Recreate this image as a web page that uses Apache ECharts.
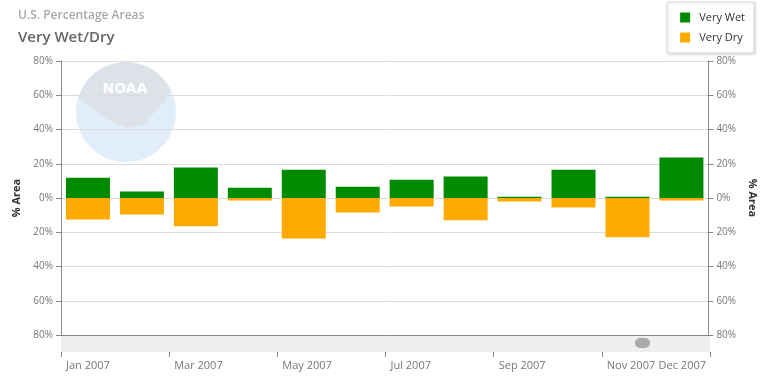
<!DOCTYPE html>
<html>
<head>
<meta charset="utf-8">
<script src="https://cdn.jsdelivr.net/npm/echarts@6/dist/echarts.min.js"></script>
<style>
html,body{margin:0;padding:0;background:#fff;}
#chart{width:766px;height:379px;}
</style>
</head>
<body>
<div id="chart"></div>
<script>
// ---- data ----
const months = ['Jan','Feb','Mar','Apr','May','Jun','Jul','Aug','Sep','Oct','Nov','Dec'];
const veryWet = [11.8, 3.8, 17.8, 6.0, 16.5, 6.6, 10.6, 12.6, 0.8, 16.5, 0.8, 23.6];
const veryDry = [-12.6, -9.7, -16.5, -1.4, -23.7, -8.4, -4.9, -13.0, -2.0, -5.5, -22.9, -1.4];
const tickLabels = ['Jan 2007','Mar 2007','May 2007','Jul 2007','Sep 2007','Nov 2007','Dec 2007'];

const FONT = '"Open Sans", "DejaVu Sans", sans-serif';
const chart = echarts.init(document.getElementById('chart'));

// NOAA logo (decorative watermark)
const cx = 126, cy = 112, R = 50;
const grayPts = [];
const a0 = Math.PI + 0.30, a1 = 2 * Math.PI - 0.45;
for (let i = 0; i <= 40; i++) {
  const a = a0 + (a1 - a0) * i / 40;
  grayPts.push([cx + (R - 0.3) * Math.cos(a), cy + (R - 0.3) * Math.sin(a)]);
}
grayPts.push([164, 102], [154, 113], [146, 120], [150, 122], [140, 125], [128, 128], [116, 124], [102, 116], [88, 105]);

const option = {
  animation: false,
  textStyle: { fontFamily: FONT },
  title: [
    { text: 'U.S. Percentage Areas', left: 13, top: 5,
      textStyle: { fontSize: 12, fontWeight: 600, color: '#a8a8a8', fontFamily: FONT } },
    { text: 'Very Wet/Dry', left: 13, top: 25,
      textStyle: { fontSize: 15, fontWeight: 600, color: '#666', fontFamily: FONT } }
  ],
  legend: {
    orient: 'vertical', right: 12, top: 2,
    backgroundColor: '#fff', borderColor: '#ddd', borderWidth: 1,
    shadowColor: 'rgba(0,0,0,0.15)', shadowBlur: 3, shadowOffsetX: 1, shadowOffsetY: 1,
    padding: [10, 9, 10, 13],
    itemWidth: 10, itemHeight: 10, itemGap: 9, icon: 'rect',
    textStyle: { fontSize: 11, color: '#333', padding: [0, 0, 0, 4], fontFamily: FONT },
    data: ['Very Wet', 'Very Dry']
  },
  graphic: [
    { type: 'circle', silent: true, shape: { cx: cx, cy: cy, r: R }, style: { fill: '#e1eefa', stroke: 'none' } },
    { type: 'polygon', silent: true, shape: { points: grayPts }, style: { fill: '#dde1e8', stroke: 'none' } },
    { type: 'text', silent: true, style: { text: 'NOAA', x: 125, y: 89, fill: '#ffffff', font: 'bold 14px "DejaVu Sans", sans-serif', align: 'center', verticalAlign: 'middle' } },
    { type: 'rect', z: 10, silent: true, shape: { x: 635, y: 338, width: 15, height: 10, r: 5 }, style: { fill: '#a9a9a9', stroke: 'none' } }
  ],
  grid: [
    { left: 61, right: 56, top: 61, bottom: 44, containLabel: false },
    { left: 61, right: 56, top: 335, height: 17, show: true, backgroundColor: '#eeeeee', borderWidth: 0 }
  ],
  xAxis: [
    { type: 'category', gridIndex: 0, data: months, boundaryGap: true,
      axisLine: { show: true, onZero: false, lineStyle: { color: '#888', width: 1 } },
      axisTick: { show: false }, axisLabel: { show: false }, splitLine: { show: false } },
    { type: 'value', gridIndex: 1, min: 0, max: 12, interval: 2, position: 'bottom',
      axisLine: { show: false },
      axisTick: { show: true, length: 5, lineStyle: { color: '#888' } },
      splitLine: { show: false },
      axisLabel: { show: true, margin: 8, fontSize: 11, color: '#777', fontFamily: FONT,
        align: 'left', alignMaxLabel: 'right', padding: [0, 4, 0, 5],
        formatter: v => tickLabels[Math.round(v / 2)] } }
  ],
  yAxis: [
    { type: 'value', gridIndex: 0, min: -80, max: 80, interval: 20, position: 'left',
      name: '% Area', nameLocation: 'middle', nameRotate: 90, nameGap: 38,
      nameTextStyle: { fontSize: 11, fontWeight: 'bold', color: '#333', fontFamily: FONT },
      axisLine: { show: true, onZero: false, lineStyle: { color: '#888' } },
      axisTick: { show: true, length: 5, lineStyle: { color: '#888' } },
      splitLine: { show: true, lineStyle: { color: '#dcdcdc' } },
      axisLabel: { fontSize: 10, color: '#777', margin: 8, fontFamily: FONT, formatter: v => Math.abs(v) + '%' } },
    { type: 'value', gridIndex: 0, min: -80, max: 80, interval: 20, position: 'right',
      name: '% Area', nameLocation: 'middle', nameRotate: -90, nameGap: 38,
      nameTextStyle: { fontSize: 11, fontWeight: 'bold', color: '#333', fontFamily: FONT },
      axisLine: { show: true, onZero: false, lineStyle: { color: '#888' } },
      axisTick: { show: true, length: 5, lineStyle: { color: '#888' } },
      splitLine: { show: false },
      axisLabel: { fontSize: 10, color: '#777', margin: 8, fontFamily: FONT, formatter: v => Math.abs(v) + '%' } },
    { type: 'value', gridIndex: 1, show: false }
  ],
  series: [
    { name: 'Very Wet', type: 'bar', xAxisIndex: 0, yAxisIndex: 0, stack: 'a', barWidth: 44,
      itemStyle: { color: '#008a00' }, data: veryWet },
    { name: 'Very Dry', type: 'bar', xAxisIndex: 0, yAxisIndex: 0, stack: 'a', barWidth: 44,
      itemStyle: { color: '#ffaa00' }, data: veryDry }
  ]
};
chart.setOption(option);
</script>
</body>
</html>
